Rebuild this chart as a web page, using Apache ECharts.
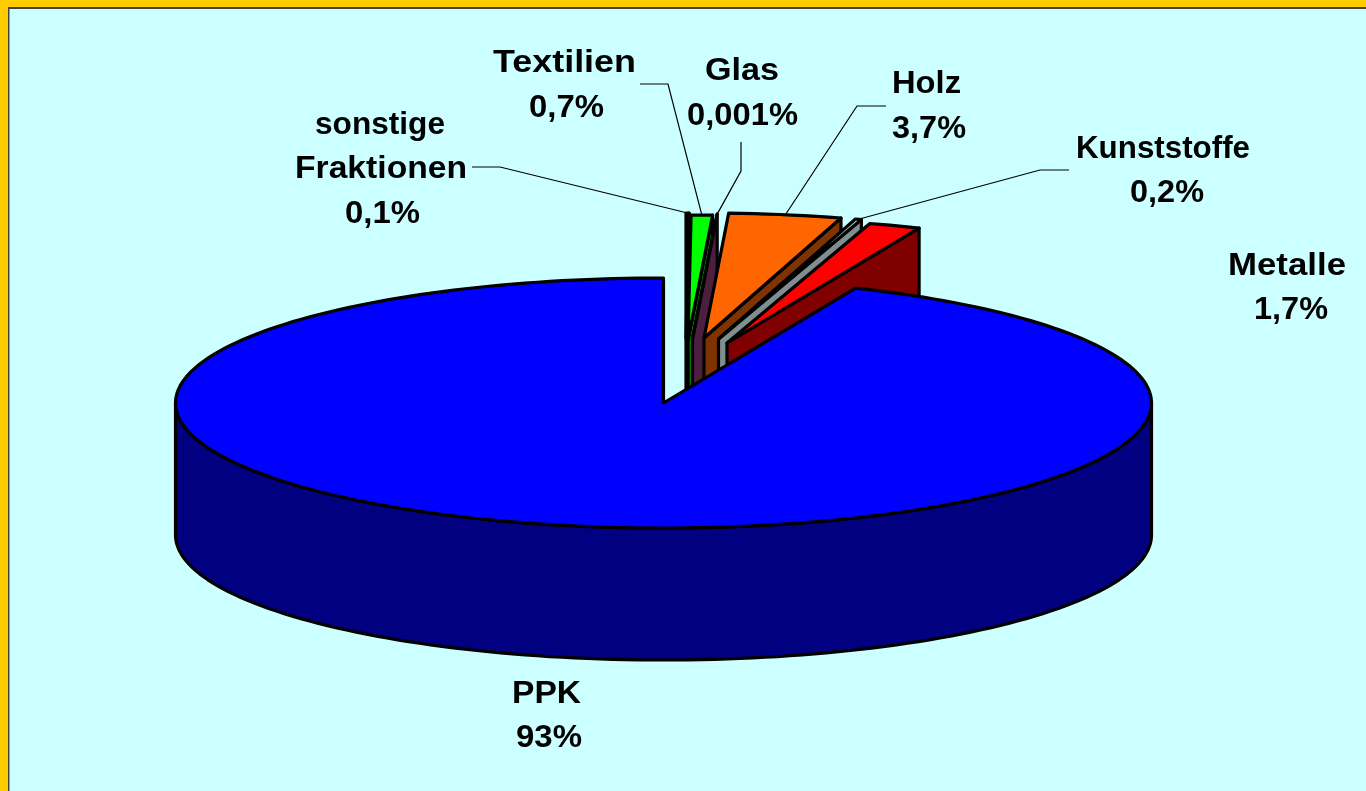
<!DOCTYPE html>
<html>
<head>
<meta charset="utf-8">
<style>html,body{margin:0;padding:0;background:#CCFFFF}#c{width:1366px;height:791px}</style>
<script src="https://cdn.jsdelivr.net/npm/echarts@6/dist/echarts.min.js"></script>
</head>
<body>
<div id="c"></div>
<script>
// ---- data ----
var categories  = ['sonstige Fraktionen', 'Textilien', 'Glas', 'Holz', 'Kunststoffe', 'Metalle', 'PPK'];
var shares      = [0.1, 0.7, 0.001, 3.7, 0.2, 1.7, 93];
var shareLabels = ['0,1%', '0,7%', '0,001%', '3,7%', '0,2%', '1,7%', '93%'];

// ---- styles and layout (not data) ----
var topColors  = ['#003300', '#00FF00', '#993366', '#FF6600', '#CCFFFF', '#FF0000', '#0000FF'];
var sideColors = ['#001A00', '#008000', '#4D1F3F', '#7F3300', '#7F8F8F', '#800000', '#000080'];
var explodeX = [22.5, 24.5, 29, 40.5, 55, 63.5, 0];
var explodeY = [-65, -63, -64, -65, -64, -60, 0];
var pie = { cx: 663.5, cy: 403, rx: 488, ry: 125, depth: 132 };
// per category: text lines as [centre x, baseline y, target width]
var nameLines = [
  [['sonstige', 380, 133, 130], ['Fraktionen', 381, 177, 172]],
  [['Textilien', 564.5, 71, 143]],
  [['Glas', 742, 79, 74]],
  [['Holz', 926.5, 92, 69]],
  [['Kunststoffe', 1163, 157, 174]],
  [['Metalle', 1287, 274, 118]],
  [['PPK', 546.5, 702, 69]]
];
var valueLines = [[382.5, 222, 75], [566.5, 116, 75], [742.5, 124, 111], [929, 137, 74], [1167, 201, 74], [1291, 318, 74], [549, 746, 66]];
// leader start and elbow for labelled slices
var leaders = [[[472, 167], [500, 167]], [[640, 84], [668, 84]], [[741, 142], [741, 171]], [[886, 106], [857, 106]], [[1069, 170], [1040, 170]], null, null];

var FONT_SIZE = 32, FONT_FAMILY = '"Liberation Sans", Arial, sans-serif';
var measureCtx = document.createElement('canvas').getContext('2d');
function textScale(text, width) {
  measureCtx.font = 'bold ' + FONT_SIZE + 'px ' + FONT_FAMILY;
  return width / measureCtx.measureText(text).width;
}

var total = shares.reduce(function (a, b) { return a + b; }, 0);
function startDeg(i) {
  var s = 0;
  for (var k = 0; k < i; k++) s += shares[k];
  return s / total * 360;
}
function rimPoint(i, deg, down) {
  var r = deg * Math.PI / 180;
  return [pie.cx + explodeX[i] + pie.rx * Math.sin(r), pie.cy + explodeY[i] - pie.ry * Math.cos(r) + (down || 0)];
}
function arc(i, a, b, down) {
  var pts = [], n = Math.max(1, Math.ceil(Math.abs(b - a) / 1.5));
  for (var k = 0; k <= n; k++) pts.push(rimPoint(i, a + (b - a) * k / n, down));
  return pts;
}
function poly(points, fill) {
  return { type: 'polygon', shape: { points: points }, style: { fill: fill, stroke: '#000', lineWidth: 3.2, lineJoin: 'round' } };
}

function renderSlice(params, api) {
  var i = params.dataIndex, value = api.value(0);
  var a = startDeg(i), b = a + value / total * 360;
  var tip = [pie.cx + explodeX[i], pie.cy + explodeY[i]];
  var children = [];
  if (i === categories.length - 1) {
    // large slice: the visible outer wall runs along the front half of the rim
    var front = arc(i, 90, 270, 0).concat(arc(i, 270, 90, pie.depth));
    children.push(poly(front, sideColors[i]));
  } else {
    // exploded slice: its right cut face is visible
    var o = rimPoint(i, b);
    children.push(poly([tip, o, [o[0], o[1] + pie.depth], [tip[0], tip[1] + pie.depth]], sideColors[i]));
  }
  children.push(poly([tip].concat(arc(i, a, b, 0)), topColors[i]));
  return { type: 'group', children: children };
}

function renderLabel(params, api) {
  var i = params.dataIndex, value = api.value(0);
  var children = [];
  function addText(t, x, base, w) {
    children.push({
      type: 'text', x: x, y: base - 7.5, scaleX: textScale(t, w),
      style: { text: t, x: 0, y: 0, align: 'center', verticalAlign: 'middle', fontSize: FONT_SIZE, fontWeight: 'bold', fontFamily: FONT_FAMILY, fill: '#000' }
    });
  }
  nameLines[i].forEach(function (l) { addText(l[0], l[1], l[2], l[3]); });
  addText(shareLabels[i], valueLines[i][0], valueLines[i][1], valueLines[i][2]);
  if (leaders[i]) {
    var mid = startDeg(i) + value / total * 180;
    children.push({
      type: 'polyline',
      shape: { points: [leaders[i][0], leaders[i][1], rimPoint(i, mid)] },
      style: { fill: null, stroke: '#000', lineWidth: 1.2 }
    });
  }
  return { type: 'group', children: children };
}

var seriesData = shares.map(function (v, i) { return { name: categories[i], value: [v] }; });

var chart = echarts.init(document.getElementById('c'), null, { renderer: 'canvas', width: 1366, height: 791 });
chart.setOption({
  animation: false,
  backgroundColor: '#CCFFFF',
  series: [
    { type: 'custom', coordinateSystem: 'none', silent: true, data: seriesData, renderItem: renderSlice, z: 2 },
    { type: 'custom', coordinateSystem: 'none', silent: true, data: seriesData, renderItem: renderLabel, z: 3 }
  ],
  graphic: [
    { type: 'rect', z: 10, shape: { x: 0, y: 0, width: 1366, height: 7 }, style: { fill: '#FFCC00' } },
    { type: 'rect', z: 10, shape: { x: 0, y: 0, width: 8, height: 791 }, style: { fill: '#FFCC00' } },
    { type: 'rect', z: 10, shape: { x: 8, y: 7, width: 1358, height: 2 }, style: { fill: '#444' } },
    { type: 'rect', z: 10, shape: { x: 8, y: 7, width: 1.5, height: 784 }, style: { fill: '#444' } }
  ]
});
</script>
</body>
</html>
